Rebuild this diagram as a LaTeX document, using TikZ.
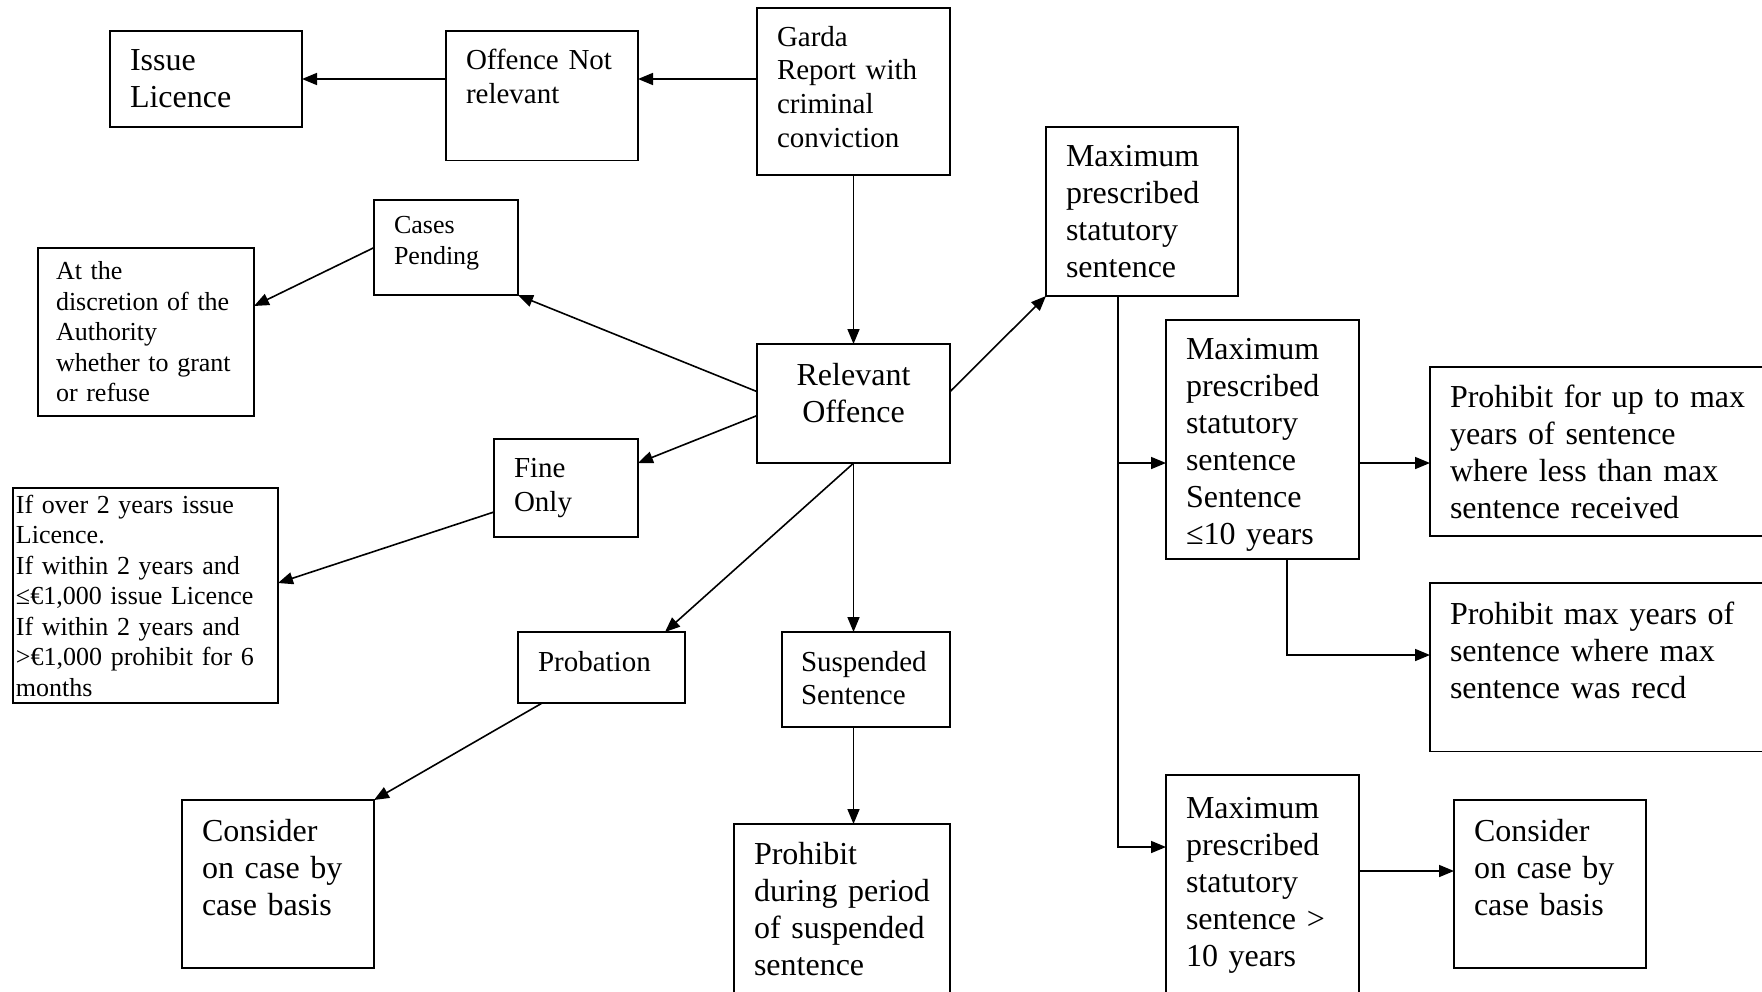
\documentclass[tikz,border=0pt]{standalone}
\usepackage{fontspec}
\setmainfont{Liberation Serif}
\usetikzlibrary{arrows.meta,positioning}

\begin{document}
\begin{tikzpicture}[x=1pt, y=-1pt,
  box/.style={draw, line width=1.8pt, anchor=north west, outer sep=0pt,
    inner xsep=20pt, inner ysep=2pt, align=left},
  big/.style={font=\fontsize{32}{37}\selectfont},
  mid/.style={font=\fontsize{29}{33.7}\selectfont},
  small/.style={font=\fontsize{26}{30.5}\selectfont},
  arr/.style={-{Triangle[length=15pt,width=12pt]}, line width=1.6pt}
]
  \useasboundingbox (0,0) rectangle (1762,991);
  \clip (0,0) rectangle (1762,991);

  % top row
  \node[box, big, text width=152pt, minimum height=96pt] (issue) at (110,31)
    {Issue\\Licence};
  \node[box, mid, text width=152pt, inner ysep=18pt, text depth=73pt] (notrel)
    at (446,31) {Offence Not\\relevant};
  \node[box, mid, text width=153pt, inner ysep=18pt, text depth=111pt] (garda)
    at (757,8) {Garda\\Report with\\criminal\\conviction};
  \node[box, big, text width=152pt, minimum height=169pt] (maxtop) at (1046,127)
    {Maximum\\prescribed\\statutory\\sentence};

  % left branches
  \node[box, small, text width=104pt, inner ysep=16.5pt, text depth=45pt]
    (pending) at (374,200) {Cases\\Pending};
  \node[box, small, inner xsep=18pt, text width=180pt, minimum height=168pt]
    (discr) at (38,248)
    {At the\\discretion of the\\Authority\\whether to grant\\or refuse};
  \node[box, big, align=center, text width=153pt, inner ysep=19pt,
    text depth=59pt] (relevant) at (757,344) {Relevant\\Offence};
  \node[box, mid, text width=104pt, minimum height=98pt] (fine) at (494,439)
    {Fine\\Only};
  \node[box, small, inner xsep=3pt, text width=259pt, minimum height=215pt]
    (ifover) at (13,488)
    {If over 2 years issue\\Licence.\\If within 2 years and\\≤€1,000 issue Licence\\If within 2 years and\\>€1,000 prohibit for 6\\months};
  \node[box, mid, text width=127pt, inner ysep=19pt, text depth=13pt]
    (probation) at (518,632) {Probation};
  \node[box, mid, inner xsep=19pt, text width=130pt, inner ysep=19pt,
    text depth=37pt] (suspended) at (782,632) {Suspended\\Sentence};
  \node[box, big, text width=152pt, inner ysep=19pt, text depth=108pt]
    (considerL) at (182,800) {Consider\\on case by\\case basis};
  \node[box, big, text width=176pt, minimum height=170pt] (prohibdur)
    at (734,824) {Prohibit\\during period\\of suspended\\sentence};

  % right branches
  \node[box, big, text width=153pt, inner ysep=18pt, text depth=182pt] (le10)
    at (1166,320)
    {Maximum\\prescribed\\statutory\\sentence\\Sentence\\≤10 years};
  \node[box, big, text width=300pt, minimum height=169pt] (prohibup)
    at (1430,367)
    {Prohibit for up to max\\years of sentence\\where less than max\\sentence received};
  \node[box, big, text width=300pt, inner ysep=19pt, text depth=108pt]
    (prohibmax) at (1430,583)
    {Prohibit max years of\\sentence where max\\sentence was recd};
  \node[box, big, text width=153pt, minimum height=220pt] (gt10) at (1166,775)
    {Maximum\\prescribed\\statutory\\sentence >\\10 years};
  \node[box, big, text width=152pt, inner ysep=19pt, text depth=108pt]
    (considerR) at (1454,800) {Consider\\on case by\\case basis};

  % connectors
  \draw[arr] (issue.east -| garda.west) -- (issue.east -| notrel.east);
  \draw[arr] (notrel.west |- issue.east) -- (issue.east);
  \draw[arr] (garda) -- (relevant);
  \draw[arr] ([yshift=12pt]relevant.west) -- (pending.south east);
  \draw[arr] (pending.west) -- ([yshift=-58pt]discr.north east);
  \draw[arr] ([yshift=-12pt]relevant.west) -- ([yshift=-24pt]fine.north east);
  \draw[arr] ([yshift=-24pt]fine.west) -- ([yshift=-95pt]ifover.north east);
  \draw[arr] (relevant.south) -- ([xshift=-20pt]probation.north east);
  \draw[arr] (relevant.south) -- (relevant.south |- suspended.north);
  \draw[arr] ([xshift=24pt]probation.south west) -- (considerL.north east);
  \draw[arr] (relevant.south |- suspended.south)
    -- (relevant.south |- prohibdur.north);
  \draw[arr] ([yshift=12pt]relevant.east) -- (maxtop.south west);

  \coordinate (trunk) at ([xshift=72pt]maxtop.south west);
  \coordinate (in10) at ([yshift=-143pt]le10.north west);
  \coordinate (in20) at ([yshift=-72pt]gt10.north west);
  \coordinate (out20) at ([yshift=-71pt]considerR.north west);
  \draw[arr] (trunk) |- (in20);
  \draw[arr] (trunk |- in10) -- (in10);
  \draw[arr] (in10 -| le10.east) -- (in10 -| prohibup.west);
  \draw[arr] ([xshift=121pt]le10.south west)
    |- ([yshift=-72pt]prohibmax.north west);
  \draw[arr] (out20 -| gt10.east) -- (out20);
\end{tikzpicture}
\end{document}
